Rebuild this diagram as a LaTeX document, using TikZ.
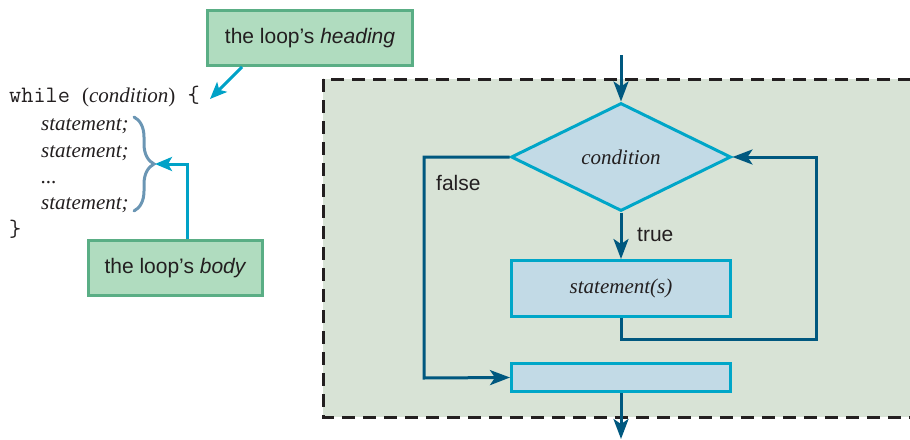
\documentclass[tikz,border=0pt]{standalone}
\usepackage{fontspec}
\setmainfont{Liberation Serif}
\setsansfont{Liberation Sans}
\usetikzlibrary{positioning,shapes.geometric,arrows.meta,decorations.pathreplacing}
\definecolor{labelgreen}{HTML}{B0DCBF}
\definecolor{labelframe}{HTML}{5AAE85}
\definecolor{pointcyan}{HTML}{00A2C7}
\definecolor{flowblue}{HTML}{00587F}
\definecolor{boxfill}{HTML}{C2DAE6}
\definecolor{boxframe}{HTML}{00A6C8}
\definecolor{loopbg}{HTML}{D8E3D6}
\definecolor{bracecol}{HTML}{6B96B4}
\definecolor{ink}{HTML}{231F20}
\newcommand\codett[1]{{\fontsize{23.6}{28}\selectfont\ttfamily #1}}

\begin{document}
\begin{tikzpicture}[x=1pt,y=-1pt,font=\fontsize{21}{25}\selectfont,text=ink]
  \tikzstyle{tag}=[draw=labelframe,fill=labelgreen,line width=3pt,font=\fontsize{21}{25}\selectfont\sffamily,minimum height=55pt,inner sep=0pt]
  \tikzstyle{pointer}=[draw=pointcyan,line width=3pt,-{Stealth[length=17pt,width=14pt,inset=4pt]}]
  \tikzstyle{flow}=[draw=flowblue,line width=3pt,-{Stealth[length=20pt,width=15pt,inset=5pt]}]
  \tikzstyle{block}=[draw=boxframe,fill=boxfill,line width=3pt,inner sep=0pt,minimum width=219pt]
  \tikzstyle{codeline}=[anchor=base west,inner sep=0pt]
  \tikzstyle{flowlabel}=[anchor=west,inner sep=0pt,font=\fontsize{21}{25}\selectfont\sffamily]
  \useasboundingbox (0,0) rectangle (910,439);
  \draw[fill=loopbg,draw=ink,line width=3pt,dash pattern=on 13pt off 8pt] (323,79) rectangle (930,417);
  \node[tag,minimum width=205pt] (heading) at (310,38) {the loop’s \textit{heading}};
  \node[tag,minimum width=174pt] (body) at (175.5,268) {the loop’s \textit{body}};
  \node[codeline] (whileln) at (9,102) {\codett{while }(\textit{condition})\codett{ \{}};
  \node[codeline] (stmta) at (41,130) {\textit{statement;}};
  \node[codeline] (stmtb) at (41,157) {\textit{statement;}};
  \node[codeline] (dots) at (41,183) {\textit{...}};
  \node[codeline] (stmtc) at (41,209) {\textit{statement;}};
  \node[codeline] (closing) at (9,236) {\codett{\}}};
  \draw[draw=bracecol,line width=3pt,line cap=round,decorate,decoration={brace,amplitude=20pt}] (134,117) -- (134,211);
  \coordinate (bracetip) at (155,164);
  \coordinate (headingtip) at (210,99);
  \draw[pointer] ([xshift=-68pt]heading.south) -- (headingtip);
  \draw[pointer] ([xshift=11.5pt]body.north) |- (bracetip);
  \coordinate (entry) at (621,55);
  \node[block,shape=diamond,aspect=2,minimum width=220pt,minimum height=108pt] (cond) at (621,157) {\textit{condition}};
  \node[block,minimum height=56pt] (stmt) at (621,288.5) {\textit{statement(s)}};
  \node[block,minimum height=28pt] (after) at (621,377.5) {};
  \coordinate (exit) at (621,439);
  \coordinate (backcorner) at (816,339);
  \coordinate (falsecorner) at (424,378);
  \draw[flow] (entry) -- (cond.north);
  \draw[flow] (cond.south) -- (stmt.north);
  \draw[flow] (stmt.south) |- (backcorner) |- (cond.east);
  \draw[flow] (cond.west) -| (falsecorner) -- (after.west);
  \draw[flow] (after.south) -- (exit);
  \node[flowlabel] (truelbl) at (637,235) {true};
  \node[flowlabel] (falselbl) at (436,183) {false};
\end{tikzpicture}
\end{document}
